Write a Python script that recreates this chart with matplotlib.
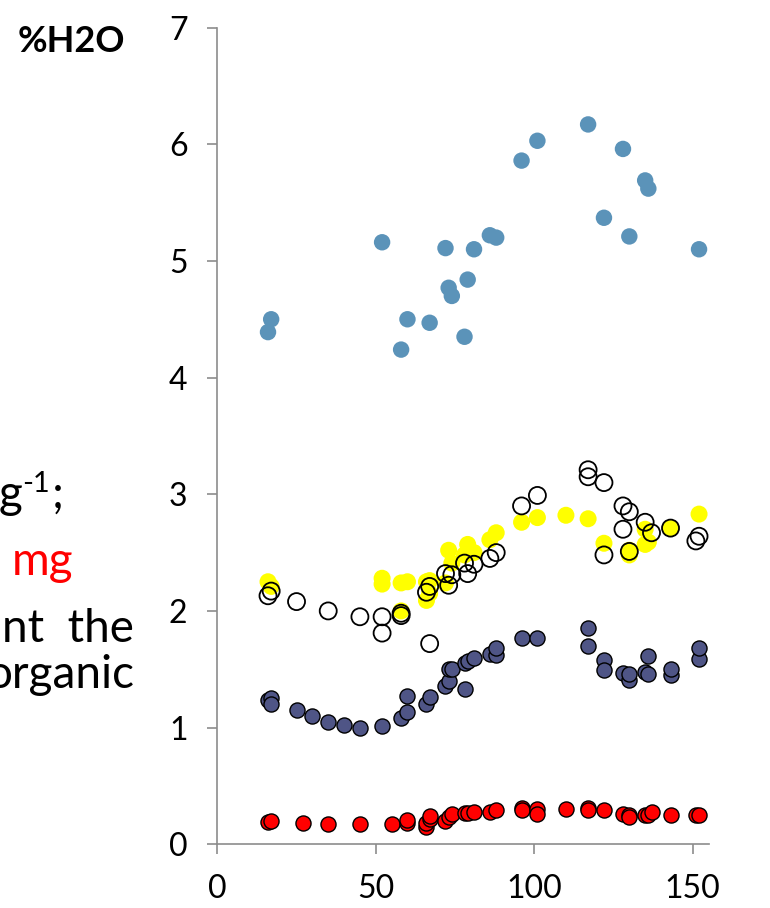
import matplotlib
matplotlib.use('Agg')
import matplotlib.pyplot as plt

plt.rcParams['font.family'] = ['Lato', 'DejaVu Sans']

# %H2O (blue filled)
blue_x = [16, 17, 52, 58, 60, 67, 72, 73, 74, 78, 79, 81, 86, 88, 96, 101, 117, 122, 128, 130, 135, 136, 152]
blue_y = [4.39, 4.50, 5.16, 4.24, 4.50, 4.47, 5.11, 4.77, 4.70, 4.35, 4.84, 5.10, 5.22, 5.20, 5.86, 6.03, 6.17,
          5.37, 5.96, 5.21, 5.69, 5.62, 5.10]

# navy series
navy_x = [16, 17, 17, 25, 30, 35, 40, 45, 52, 58, 60, 60, 66, 67, 72, 73, 73, 74, 78, 78, 79, 81, 86, 88, 88,
          96, 101, 117, 117, 122, 122, 128, 130, 130, 135, 136, 136, 143, 143, 152, 152]
navy_y = [1.24, 1.25, 1.20, 1.15, 1.10, 1.05, 1.02, 1.00, 1.01, 1.08, 1.13, 1.27, 1.20, 1.26, 1.36, 1.40, 1.50,
          1.50, 1.33, 1.55, 1.57, 1.60, 1.63, 1.62, 1.68, 1.77, 1.77, 1.85, 1.70, 1.58, 1.49, 1.47, 1.41, 1.46,
          1.48, 1.46, 1.61, 1.45, 1.50, 1.59, 1.68]

# red series
red_x = [16, 17, 27, 35, 45, 55, 60, 60, 66, 66, 67, 67, 72, 73, 74, 78, 79, 81, 86, 88, 96, 96, 101, 101,
         110, 117, 117, 122, 128, 130, 130, 135, 136, 137, 143, 151, 152]
red_y = [0.19, 0.20, 0.18, 0.17, 0.17, 0.17, 0.18, 0.21, 0.15, 0.18, 0.22, 0.24, 0.20, 0.23, 0.26, 0.27, 0.27,
         0.28, 0.28, 0.29, 0.31, 0.29, 0.30, 0.26, 0.30, 0.31, 0.29, 0.29, 0.26, 0.25, 0.23, 0.25, 0.25, 0.28,
         0.25, 0.25, 0.25]

# yellow series
yel_x = [16, 17, 52, 52, 58, 58, 60, 66, 66, 67, 67, 72, 73, 74, 78, 79, 81, 86, 88, 96, 101, 110, 117, 122,
         130, 130, 135, 135, 136, 143, 152]
yel_y = [2.25, 2.21, 2.28, 2.23, 2.24, 2.00, 2.25, 2.25, 2.09, 2.26, 2.15, 2.24, 2.52, 2.41, 2.48, 2.57, 2.50,
         2.61, 2.67, 2.76, 2.80, 2.82, 2.79, 2.58, 2.52, 2.48, 2.70, 2.57, 2.59, 2.71, 2.83]

# open circles
open_x = [16, 17, 25, 35, 45, 52, 52, 58, 58, 66, 67, 67, 72, 73, 74, 78, 79, 81, 86, 88, 96, 101, 117, 117,
          122, 122, 128, 128, 130, 130, 135, 137, 143, 151, 152]
open_y = [2.13, 2.17, 2.08, 2.00, 1.95, 1.95, 1.81, 1.96, 1.98, 2.16, 2.21, 1.72, 2.32, 2.22, 2.31, 2.41, 2.32,
          2.40, 2.45, 2.50, 2.90, 2.99, 3.21, 3.15, 3.10, 2.48, 2.90, 2.70, 2.85, 2.51, 2.76, 2.67, 2.71, 2.60,
          2.64]

fig = plt.figure(figsize=(7.7, 9.08), dpi=100)
ax = fig.add_axes([0.2822, 0.0702, 0.638, 0.8994])

ax.scatter(blue_x, blue_y, s=140, color='#5B93B9', edgecolors='none', zorder=3)
ax.scatter(navy_x, navy_y, s=118, color='#4F5586', edgecolors='black', linewidths=1, zorder=3)
ax.scatter(red_x, red_y, s=118, color='#FF0000', edgecolors='black', linewidths=1, zorder=3)
ax.scatter(yel_x, yel_y, s=150, color='#FFFF00', edgecolors='none', zorder=3)
ax.scatter(open_x, open_y, s=150, facecolors='none', edgecolors='black', linewidths=1.3, zorder=4)

ax.set_xlim(0, 155)
ax.set_ylim(0, 7)
ax.set_xticks([0, 50, 100, 150])
ax.set_yticks(range(0, 8))
for s in ['top', 'right']:
    ax.spines[s].set_visible(False)
for s in ['left', 'bottom']:
    ax.spines[s].set_color('#8c8c8c')
    ax.spines[s].set_linewidth(1.2)
ax.tick_params(direction='out', length=7.5, width=1.2, color='#8c8c8c', labelsize=23, pad=14)

fig.text(0.023, 0.973, '%H2O', fontsize=26, fontweight='bold', ha='left', va='top')

# cut-off slide text on the left
fig.text(22 / 770, 1 - 508 / 908, 'g', fontsize=33, ha='right', va='baseline')
fig.text(22 / 770, 1 - 492 / 908, '-1', fontsize=21, ha='left', va='baseline')
fig.text(52 / 770, 1 - 508 / 908, ';', fontsize=33, ha='left', va='baseline')
fig.text(73 / 770, 1 - 575 / 908, 'mg', fontsize=33, color='#FF0000', ha='right', va='baseline')
fig.text(134 / 770, 1 - 642 / 908, 'nt  the', fontsize=33, ha='right', va='baseline')
fig.text(134 / 770, 1 - 688 / 908, 'organic', fontsize=33, ha='right', va='baseline')

fig.savefig('out.png', dpi=100)
